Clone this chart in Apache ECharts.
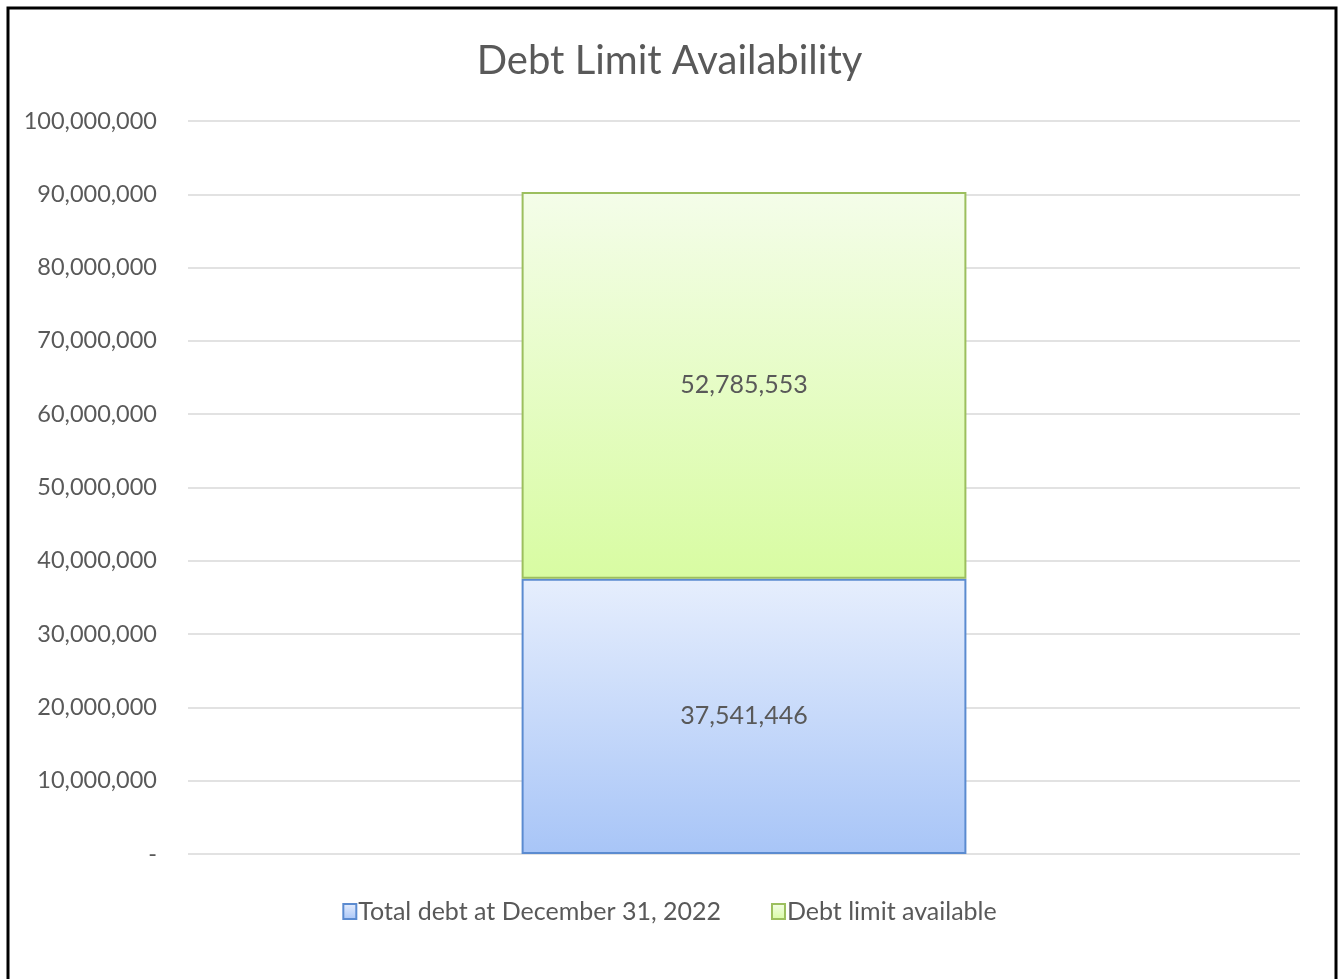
<!DOCTYPE html>
<html>
<head>
<meta charset="utf-8">
<script src="https://cdn.jsdelivr.net/npm/echarts@6/dist/echarts.min.js"></script>
<style>
  html, body { margin: 0; padding: 0; background: #fff; }
  #chart { width: 1339px; height: 979px; }
</style>
</head>
<body>
<div id="chart"></div>
<script>
// Chart data
const categories = ['2022'];
const seriesNames = ['Total debt at December 31, 2022', 'Debt limit available'];
const totalDebt = [37541446];
const limitAvailable = [52785553];

const FONT = 'Lato';
const TEXT = '#595959';

const fmt = v => v === 0 ? '-' : Math.round(v).toLocaleString('en-US');

const chart = echarts.init(document.getElementById('chart'));
chart.setOption({
  animation: false,
  backgroundColor: '#fff',
  title: {
    text: 'Debt Limit Availability',
    left: 'center',
    top: 36,
    textStyle: { fontFamily: FONT, fontSize: 40, fontWeight: 'normal', color: TEXT }
  },
  legend: {
    bottom: 50,
    left: 'center',
    itemWidth: 13,
    itemHeight: 15,
    itemGap: 50,
    icon: 'rect',
    textStyle: { fontFamily: FONT, fontSize: 25, color: TEXT, padding: [0, 0, 0, -3] },
    data: seriesNames
  },
  grid: { left: 188, right: 39, top: 121, bottom: 125 },
  xAxis: {
    type: 'category',
    data: categories,
    axisLine: { show: false },
    axisTick: { show: false },
    axisLabel: { show: false }
  },
  yAxis: {
    type: 'value',
    min: 0,
    max: 100000000,
    interval: 10000000,
    axisLine: { show: false },
    axisTick: { show: false },
    splitLine: { lineStyle: { color: '#d9d9d9', width: 1.5 } },
    axisLabel: {
      margin: 31,
      fontFamily: FONT,
      fontSize: 23.5,
      color: TEXT,
      formatter: fmt
    }
  },
  series: [
    {
      name: seriesNames[0],
      type: 'bar',
      stack: 'debt',
      barWidth: '40%',
      data: totalDebt,
      itemStyle: {
        borderColor: '#5b8bd0',
        borderWidth: 2,
        color: new echarts.graphic.LinearGradient(0, 0, 0, 1, [
          { offset: 0, color: '#e6eefd' },
          { offset: 1, color: '#a8c5f7' }
        ])
      },
      label: {
        show: true,
        position: 'inside',
        fontFamily: FONT,
        fontSize: 25,
        color: TEXT,
        formatter: p => fmt(p.value)
      }
    },
    {
      name: seriesNames[1],
      type: 'bar',
      stack: 'debt',
      barWidth: '40%',
      data: limitAvailable,
      itemStyle: {
        borderColor: '#9cbf5e',
        borderWidth: 2,
        color: new echarts.graphic.LinearGradient(0, 0, 0, 1, [
          { offset: 0, color: '#f4fde9' },
          { offset: 1, color: '#d8fca2' }
        ])
      },
      label: {
        show: true,
        position: 'inside',
        fontFamily: FONT,
        fontSize: 25,
        color: TEXT,
        formatter: p => fmt(p.value)
      }
    }
  ],
  graphic: [
    {
      type: 'rect',
      silent: true,
      z: 100,
      shape: { x: 8, y: 8, width: 1328, height: 1000 },
      style: { fill: 'none', stroke: '#000', lineWidth: 3 }
    }
  ]
});
</script>
</body>
</html>
